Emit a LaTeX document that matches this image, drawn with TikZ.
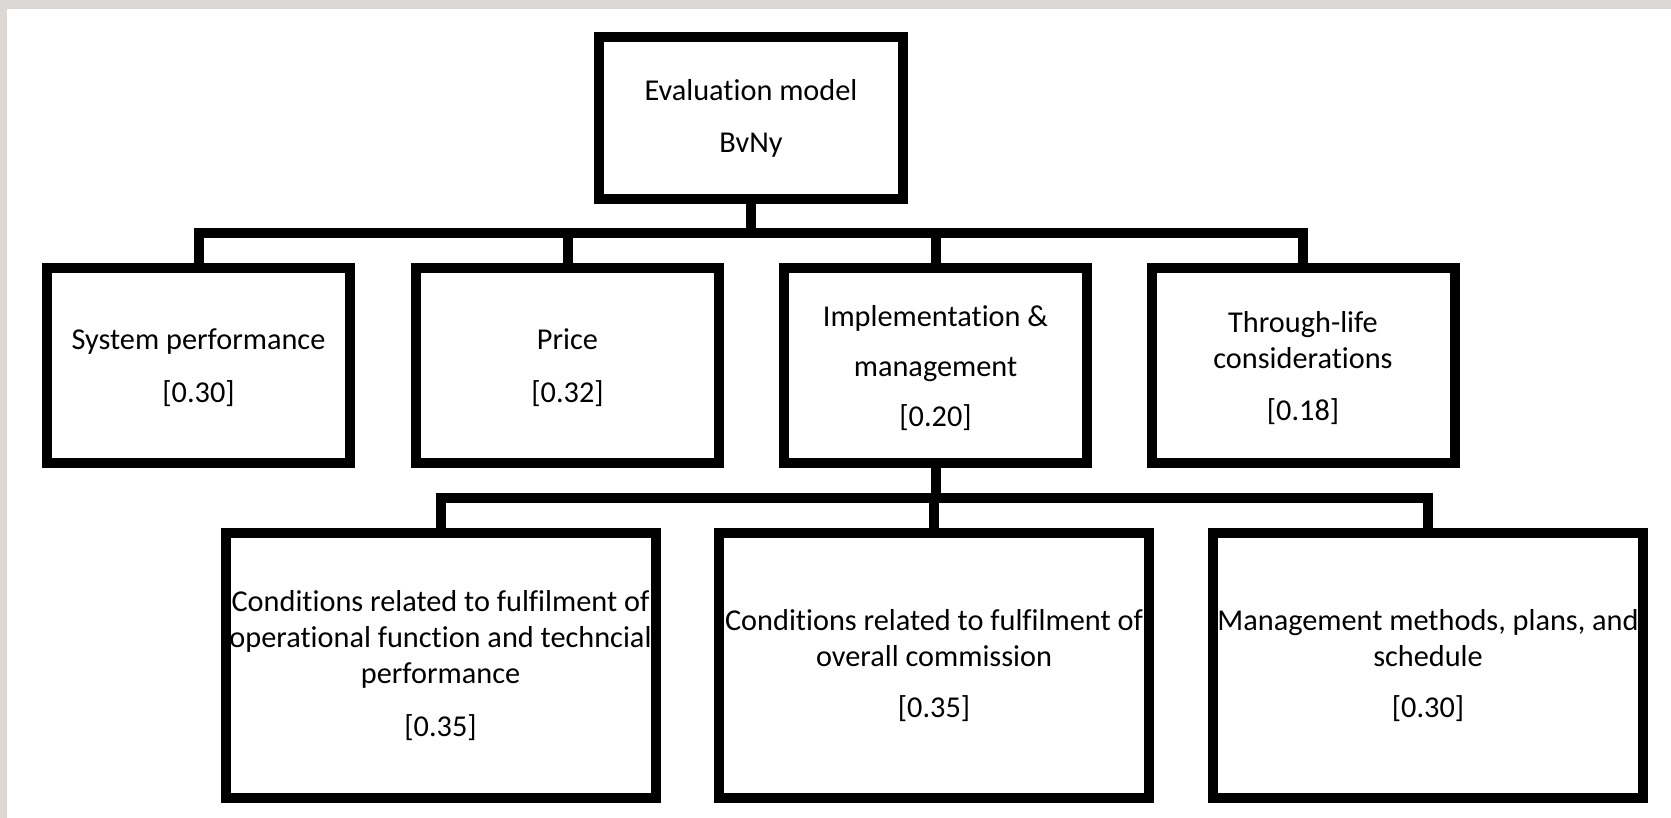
\documentclass[tikz,border=0pt]{standalone}
\usepackage{fontspec}
\setmainfont[Ligatures={NoCommon,NoContextual}]{Carlito}
\newcommand\boxfont{\fontsize{30.3}{36}\selectfont}
\newcommand\lowerfirst{\rule{0pt}{26pt}}
\definecolor{edgegray}{RGB}{219,216,213}
\begin{document}
\begin{tikzpicture}[x=1pt,y=-1pt,
  box/.style={draw=black, line width=10pt, inner sep=0pt, outer sep=0pt,
    align=center, font=\boxfont, text=black},
  topbox/.style={box, minimum width=304pt, minimum height=162pt},
  midbox/.style={box, minimum width=303pt, minimum height=195pt},
  lowbox/.style={box, minimum width=430pt, minimum height=265pt},
  conn/.style={draw=black, line width=10pt}]
\useasboundingbox (0,0) rectangle (1671,818);
\fill[white] (0,0) rectangle (1671,818);
\fill[edgegray] (0,0) rectangle (1671,9);
\fill[edgegray] (0,0) rectangle (7,818);

\node[topbox] (top) at (751,118) {Evaluation model\\[16pt]BvNy};

\node[midbox] (sp) at (198.5,365.5) {\lowerfirst System performance\\[17pt]{[0.30]}};
\node[midbox] (pr) at (567.5,365.5) {\lowerfirst Price\\[17pt]{[0.32]}};
\node[midbox] (im) at (935.5,365.5) {\lowerfirst Implementation \&\\[14pt]management\\[14pt]{[0.20]}};
\node[midbox] (tl) at (1303,365.5) {\lowerfirst Through-life\\considerations\\[16pt]{[0.18]}};

\node[lowbox] (c1) at (440.5,665.5) {Conditions related to fulfilment of\\operational function and techncial\\performance\\[17pt]{[0.35]}};
\node[lowbox] (c2) at (934,665.5) {Conditions related to fulfilment of\\overall commission\\[15pt]{[0.35]}};
\node[lowbox] (c3) at (1428,665.5) {Management methods, plans, and\\schedule\\[15pt]{[0.30]}};

\coordinate (h1) at (751,233);
\coordinate (h2) at (935,498);

\draw[conn] (top.south) -- (h1);
\draw[conn] (sp.north) |- (h1) -| (tl.north);
\draw[conn] (pr.north) -- (pr.north |- h1);
\draw[conn] (im.north) -- (im.north |- h1);

\draw[conn] (im.south) -- (im.south |- h2);
\draw[conn] (c1.north) |- (h2) -| (c3.north);
\draw[conn] (c2.north) -- (c2.north |- h2);
\end{tikzpicture}
\end{document}
